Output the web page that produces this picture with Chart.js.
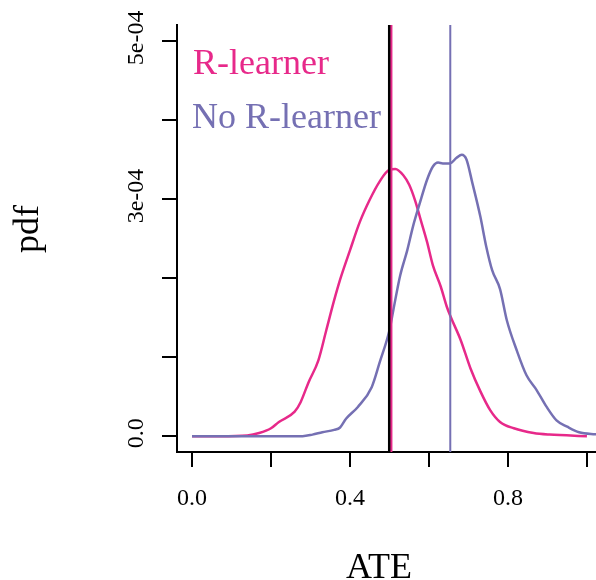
<!DOCTYPE html>
<html>
<head>
<meta charset="utf-8">
<script src="https://cdn.jsdelivr.net/npm/chart.js@4"></script>
<style>
  html, body { margin: 0; padding: 0; background: #fff; }
  canvas { display: block; }
</style>
</head>
<body>
<canvas id="chart" width="596" height="580"></canvas>
<script>
// density estimates of the ATE, with and without the R-learner
const ateR = [0, 0.07, 0.14, 0.17, 0.20, 0.22, 0.26, 0.275, 0.295, 0.32, 0.34, 0.36, 0.375, 0.40, 0.425, 0.45, 0.475, 0.50, 0.515, 0.535, 0.55, 0.565, 0.58, 0.595, 0.61, 0.63, 0.645, 0.655, 0.68, 0.705, 0.73, 0.755, 0.78, 0.815, 0.865, 0.905, 1.0];
const pdfR = [0, 0, 1e-6, 4e-6, 1.0e-5, 1.8e-5, 3.1e-5, 4.3e-5, 6.8e-5, 9.6e-5, 1.34e-4, 1.72e-4, 1.98e-4, 2.35e-4, 2.71e-4, 2.99e-4, 3.22e-4, 3.37e-4, 3.38e-4, 3.30e-4, 3.18e-4, 2.98e-4, 2.72e-4, 2.46e-4, 2.16e-4, 1.89e-4, 1.64e-4, 1.51e-4, 1.22e-4, 8.6e-5, 5.7e-5, 3.3e-5, 1.8e-5, 1.0e-5, 4e-6, 2e-6, 0];

const ateNoR = [0, 0.28, 0.305, 0.33, 0.36, 0.375, 0.39, 0.42, 0.455, 0.475, 0.50, 0.51, 0.527, 0.545, 0.56, 0.577, 0.595, 0.61, 0.623, 0.635, 0.653, 0.67, 0.683, 0.695, 0.71, 0.73, 0.745, 0.76, 0.78, 0.797, 0.822, 0.847, 0.873, 0.898, 0.923, 0.95, 0.98, 1.02, 1.06];
const pdfNoR = [0, 0, 2e-6, 5e-6, 8e-6, 1.1e-5, 2.2e-5, 3.7e-5, 6.2e-5, 9.3e-5, 1.34e-4, 1.60e-4, 2.03e-4, 2.35e-4, 2.66e-4, 2.95e-4, 3.24e-4, 3.41e-4, 3.46e-4, 3.45e-4, 3.45e-4, 3.52e-4, 3.56e-4, 3.50e-4, 3.20e-4, 2.78e-4, 2.40e-4, 2.10e-4, 1.86e-4, 1.47e-4, 1.09e-4, 7.7e-5, 5.8e-5, 3.7e-5, 2.0e-5, 1.2e-5, 5e-6, 2.5e-6, 1.5e-6];

// reference lines: true ATE, and the two estimates
const trueAte = 0.5;
const estR = 0.505;
const estNoR = 0.654;

const xTicks = [0, 0.2, 0.4, 0.6, 0.8, 1.0];
const xTickLabels = ['0.0', '', '0.4', '', '0.8', ''];
const yTicks = [0, 1e-4, 2e-4, 3e-4, 4e-4, 5e-4];
const yTickLabels = ['0.0', '', '', '3e-04', '', '5e-04'];

const legendLabels = ['R-learner', 'No R-learner'];
const xTitle = 'ATE';
const yTitle = 'pdf';

const pink = '#E7298A';
const purple = '#7570B3';
const serif = '"Liberation Serif", "DejaVu Serif", serif';

const Y_MIN = -2e-5;
const Y_MAX = 5.2e-4;

const toPoints = (xs, ys) => xs.map((x, i) => ({ x, y: ys[i] }));
const vline = x => [{ x, y: Y_MIN }, { x, y: Y_MAX }];

const curve = (data, color, width) => ({
  data,
  borderColor: color,
  borderWidth: width,
  pointRadius: 0,
  cubicInterpolationMode: 'monotone',
  fill: false,
});

const axisGrid = {
  drawOnChartArea: false,
  drawTicks: true,
  tickLength: 15,
  color: '#000',
  lineWidth: 2,
};

const decorations = {
  id: 'decorations',
  afterDraw(chart) {
    const { ctx, scales: { x, y } } = chart;
    ctx.save();
    ctx.fillStyle = '#000';

    // x tick labels
    ctx.font = `24px ${serif}`;
    ctx.textAlign = 'center';
    ctx.textBaseline = 'alphabetic';
    xTicks.forEach((v, i) => {
      if (xTickLabels[i]) ctx.fillText(xTickLabels[i], x.getPixelForValue(v), 505);
    });

    // y tick labels, rotated like base R
    yTicks.forEach((v, i) => {
      if (!yTickLabels[i]) return;
      ctx.save();
      ctx.translate(143, y.getPixelForValue(v) - 3);
      ctx.rotate(-Math.PI / 2);
      ctx.fillText(yTickLabels[i], 0, 0);
      ctx.restore();
    });

    // axis titles
    ctx.font = `36px ${serif}`;
    ctx.fillText(xTitle, 379, 578);
    ctx.save();
    ctx.translate(38, 229);
    ctx.rotate(-Math.PI / 2);
    ctx.fillText(yTitle, 0, 0);
    ctx.restore();

    // legend as coloured text
    ctx.textAlign = 'left';
    ctx.fillStyle = pink;
    ctx.fillText(legendLabels[0], 193, 74);
    ctx.fillStyle = purple;
    ctx.fillText(legendLabels[1], 192, 128);
    ctx.restore();
  },
};

new Chart(document.getElementById('chart'), {
  type: 'line',
  data: {
    datasets: [
      { ...curve(vline(estNoR), purple, 2), order: 0 },
      { ...curve(vline(estR), pink, 2), order: 1 },
      { ...curve(vline(trueAte), '#000', 3), order: 2 },
      { ...curve(toPoints(ateNoR, pdfNoR), purple, 2.5), order: 3 },
      { ...curve(toPoints(ateR, pdfR), pink, 2.5), order: 4 },
    ],
  },
  options: {
    responsive: false,
    animation: false,
    devicePixelRatio: 1,
    layout: { padding: { top: 25, right: 0, left: 0, bottom: 0 } },
    plugins: {
      legend: { display: false },
      tooltip: { enabled: false },
    },
    scales: {
      x: {
        type: 'linear',
        position: 'bottom',
        min: -0.038,
        max: 1.023,
        afterBuildTicks: s => { s.ticks = xTicks.map(value => ({ value })); },
        afterFit: s => { s.height = 128; },
        ticks: { display: false },
        grid: axisGrid,
        border: { display: true, color: '#000', width: 2 },
      },
      y: {
        type: 'linear',
        position: 'left',
        min: Y_MIN,
        max: Y_MAX,
        afterBuildTicks: s => { s.ticks = yTicks.map(value => ({ value })); },
        afterFit: s => { s.width = 177; },
        ticks: { display: false },
        grid: axisGrid,
        border: { display: true, color: '#000', width: 2 },
      },
    },
  },
  plugins: [decorations],
});
</script>
</body>
</html>
